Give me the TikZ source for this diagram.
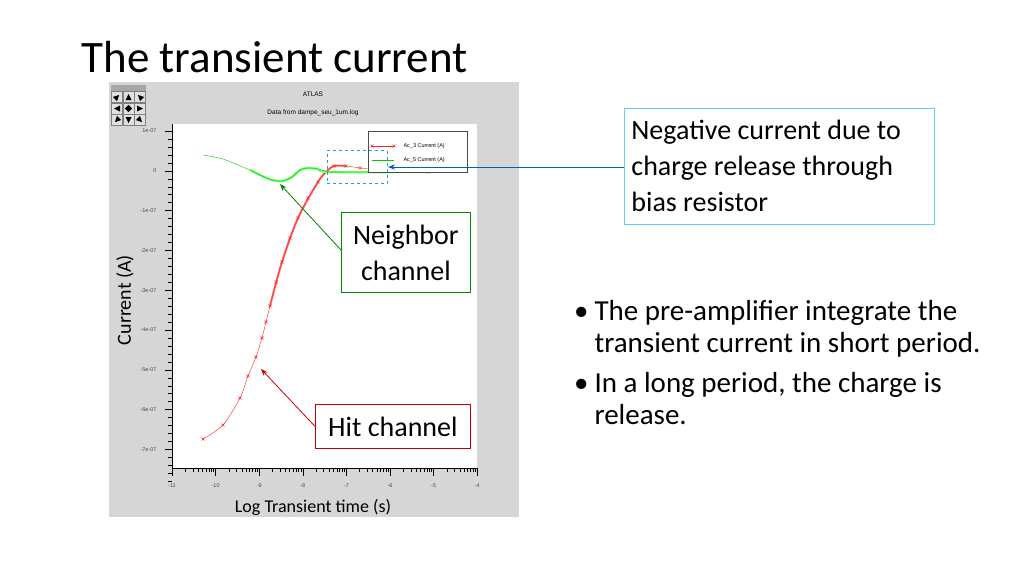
\documentclass[tikz,border=0pt]{standalone}
\usepackage{fontspec}
\setmainfont{Carlito}
\setsansfont{Liberation Sans}
\usetikzlibrary{arrows.meta}
\begin{document}
\begin{tikzpicture}[x=1pt,y=-1pt,
  callout/.style={draw,line width=0.8pt,fill=white,inner sep=6pt,align=flush left,font=\fontsize{28}{36}\selectfont},
  ticklbl/.style={font=\sffamily\fontsize{5.5}{6}\selectfont,text=black!70},
  navbtn/.style={draw=black!50,fill=black!12,minimum size=11pt,inner sep=0pt}]
  % page
  \fill[white] (0,0) rectangle (1024,576);
  \node[anchor=base west,font=\fontsize{45}{48}\selectfont] (title) at (78,72) {The transient current};

  % gray panel and plot area
  \fill[black!16] (109,82) rectangle (519,517);
  \fill[white] (172,124) rectangle (477,468);
  \node[font=\sffamily\fontsize{6.5}{7}\selectfont] (prog) at (313,94) {ATLAS};
  \node[font=\sffamily\fontsize{6.5}{7}\selectfont] (src) at (313,113) {Data from dampe\_seu\_1um.log};

  % navigation buttons
  \fill[black!35] (111,85) rectangle (146,91);
  \foreach \i in {0,1,2} {
    \foreach \j in {0,1,2} {
      \node[navbtn] (nav\i\j) at (117+11.5*\i,97+11.5*\j) {};
    }
  }
  \foreach \n/\r in {nav00/-45,nav10/0,nav20/45,nav01/90,nav21/-90,nav02/135,nav12/180,nav22/-135} {
    \fill[rotate around={\r:(\n)}] ([yshift=3pt]\n.center) -- ([xshift=-3pt,yshift=-3pt]\n.center) -- ([xshift=3pt,yshift=-3pt]\n.center) -- cycle;
  }
  \fill[rotate around={45:(nav11)}] ([xshift=-2.5pt,yshift=-2.5pt]nav11.center) rectangle ([xshift=2.5pt,yshift=2.5pt]nav11.center);

  % y axis
  \draw[thick] (172,124) -- (172,468);
  \foreach \v/\lab in {0/1e-07,1/0,2/-1e-07,3/-2e-07,4/-3e-07,5/-4e-07,6/-5e-07,7/-6e-07,8/-7e-07} {
    \draw (165,131+39.8*\v) -- (172,131+39.8*\v);
    \node[ticklbl,anchor=east] at (160,131+39.8*\v) {\lab};
  }
  \foreach \v in {0,...,8} {
    \foreach \m in {1,2,3,4} {
      \draw (168,131+39.8*\v+7.96*\m) -- (172,131+39.8*\v+7.96*\m);
    }
  }

  % x axis
  \draw[thick] (172,468) -- (477,468);
  \foreach \d/\lab in {0/-11,1/-10,2/-9,3/-8,4/-7,5/-6,6/-5,7/-4} {
    \draw (172+43.6*\d,468) -- (172+43.6*\d,476);
    \node[ticklbl] at (172+43.6*\d,486) {\lab};
  }
  \foreach \d in {0,...,6} {
    \foreach \k in {2,...,9} {
      \pgfmathsetmacro\xt{172+43.6*\d+43.6*log10(\k)}
      \draw (\xt,468) -- (\xt,472);
    }
  }

  % curves
  \draw[red!60,line width=2pt] plot[smooth] coordinates {(270,306) (282,262) (298,218) (318,182) (326,172) (334,166) (346,166)};
  \draw[red!85,mark=x,mark size=2.2pt,mark options={red!85}] plot[smooth] coordinates {
    (203,439) (223,425) (240,398) (248,376) (256,357) (262,338) (266,322) (270,306)
    (276,282) (282,262) (290,238) (298,218) (308,198) (318,182) (326,172) (334,166)
    (346,166) (360,168) (380,170) (405,171) (428,172)};
  \draw[green!60,line width=2.2pt] plot[smooth] coordinates {(250,170) (262,176) (272,180) (282,181) (292,177) (300,170) (308,168) (318,169) (330,172) (428,172)};
  \draw[green!80!black,mark=o,mark size=1.4pt,mark options={green!70!black}] plot[smooth] coordinates {
    (203,155) (223,159) (240,166) (250,170) (262,176) (272,180) (282,181) (292,177)
    (300,170) (308,168) (318,169) (330,172) (345,172) (365,172) (390,172) (410,172) (428,172)};

  % legend
  \node[draw=black!70,fill=white,minimum width=99pt,minimum height=41pt,anchor=north west,inner sep=0pt] (legend) at (368,131) {};
  \draw[red!85,mark=x,mark size=2pt] plot coordinates {(372,146) (394,146)};
  \node[ticklbl,text=black,anchor=west] (lred) at (400,146) {Ac\_3 Current (A)};
  \draw[green!80!black,mark=o,mark size=1.4pt] plot coordinates {(372,160) (394,160)};
  \node[ticklbl,text=black,anchor=west] (lgreen) at (400,160) {Ac\_5 Current (A)};

  % highlighted region
  \node[draw=cyan!80!black,dashed,thick,minimum width=60pt,minimum height=33pt,inner sep=0pt] (zone) at (357,167) {};

  % axis titles
  \node[rotate=90,font=\fontsize{20}{22}\selectfont] (ylab) at (125,300) {Current (A)};
  \node[font=\fontsize{18}{22}\selectfont] (xlab) at (313,507) {Log Transient time (s)};

  % callouts
  \node[callout,draw=cyan!60,anchor=north west,text width=296pt,inner xsep=7pt,inner ysep=12pt] (neg) at (624,108)
    {Negative current due to\\charge release through\\bias resistor};
  \node[callout,draw=green!55!black,align=center,anchor=north west,minimum width=129pt,minimum height=80pt,inner sep=3pt] (nb) at (341,212)
    {Neighbor\\channel};
  \node[callout,draw=red!75!black,anchor=north west,minimum width=155pt,minimum height=44pt,inner sep=3pt] (hit) at (315,404)
    {Hit channel};
  \coordinate (negtail) at (624,167);
  \coordinate (nbtail) at (341,250);
  \coordinate (nbtip) at (280,184);
  \coordinate (hittip) at (261,369);
  \coordinate (zonetip) at (388,167);
  \draw[-{Stealth[length=7pt]},green!50!black,thick] (nbtail) -- (nbtip);
  \draw[-{Stealth[length=7pt]},red!80!black,thick] (hit.west) -- (hittip);
  \draw[-{Stealth[length=7pt]},blue!45!cyan!70!black,thick] (negtail) -- (zonetip);

  % notes
  \node[anchor=north west,text width=440pt,align=flush left,font=\fontsize{29}{32}\selectfont] (notes) at (566,277) {%
    \begin{itemize}\raggedright\setlength\itemsep{4pt}\setlength\labelsep{6pt}
    \item[•] The pre-amplifier integrate the\\transient current in short period.
    \item[•] In a long period, the charge is\\release.
    \end{itemize}};
\end{tikzpicture}
\end{document}
